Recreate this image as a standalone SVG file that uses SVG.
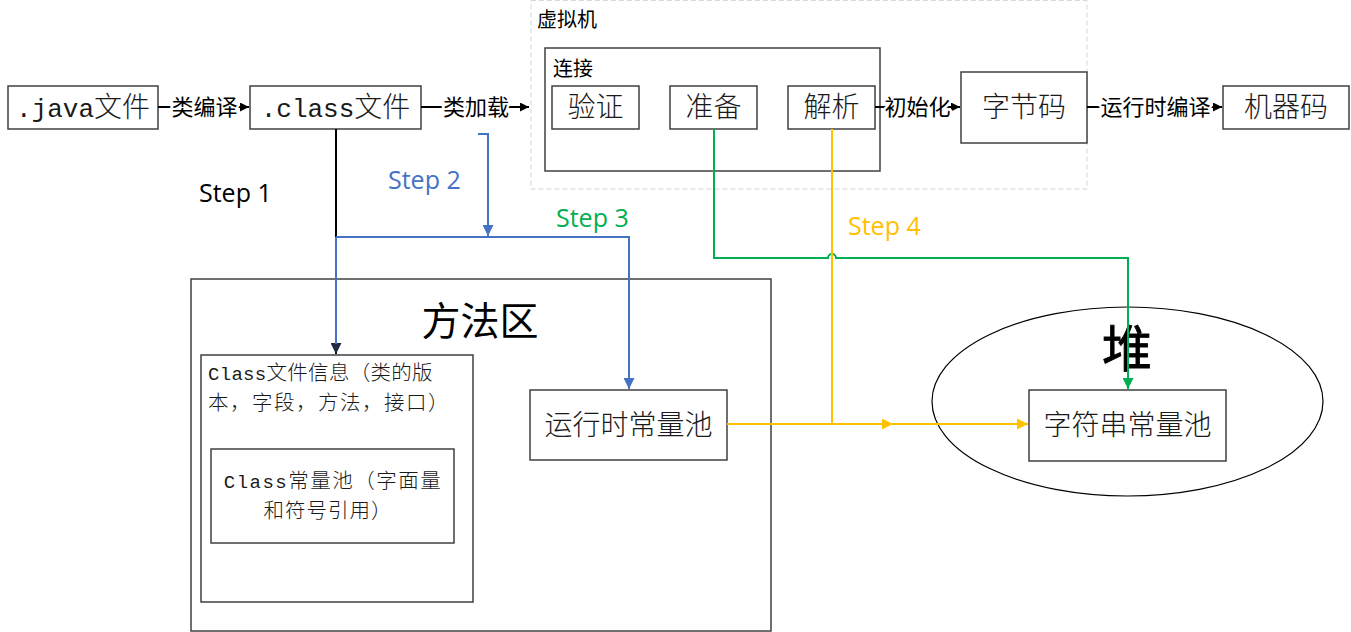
<svg xmlns="http://www.w3.org/2000/svg" width="1351" height="632" viewBox="0 0 1351 632">
<style>
.box{fill:#fff;stroke:#404040;stroke-width:1.5}
.big{font-family:"Noto Sans CJK SC",sans-serif;font-size:28px;font-weight:300;fill:#1a1a1a;text-anchor:middle}
.mid{font-family:"Noto Sans CJK SC",sans-serif;font-size:20.5px;font-weight:300;fill:#1a1a1a}
.mono{font-family:"Liberation Mono","Noto Sans CJK SC",monospace}
.hdr{font-family:"Noto Sans CJK SC",sans-serif;font-size:20px;fill:#000}
.lbl{font-family:"Noto Sans CJK SC",sans-serif;font-size:22px;fill:#000;text-anchor:middle;stroke:#fff;stroke-width:5;paint-order:stroke;stroke-linejoin:round}
.step{font-family:"Open Sans",sans-serif;font-size:25px}
.ln{fill:none;stroke-width:2}
</style>
<defs>
<marker id="ak" viewBox="0 0 10 10" refX="10" refY="5" markerWidth="9" markerHeight="9" markerUnits="userSpaceOnUse" orient="auto"><path d="M0,0 L10,5 L0,10 z" fill="#000"/></marker>
<marker id="akd" viewBox="0 0 10 10" refX="10" refY="5" markerWidth="11" markerHeight="11" markerUnits="userSpaceOnUse" orient="auto"><path d="M0,0 L10,5 L0,10 z" fill="#1f2a44"/></marker>
<marker id="ab" viewBox="0 0 10 10" refX="10" refY="5" markerWidth="11" markerHeight="11" markerUnits="userSpaceOnUse" orient="auto"><path d="M0,0 L10,5 L0,10 z" fill="#4472C4"/></marker>
<marker id="ag" viewBox="0 0 10 10" refX="10" refY="5" markerWidth="11" markerHeight="11" markerUnits="userSpaceOnUse" orient="auto"><path d="M0,0 L10,5 L0,10 z" fill="#00B050"/></marker>
<marker id="ay" viewBox="0 0 10 10" refX="10" refY="5" markerWidth="11" markerHeight="11" markerUnits="userSpaceOnUse" orient="auto"><path d="M0,0 L10,5 L0,10 z" fill="#FFC000"/></marker>
</defs>
<rect width="1351" height="632" fill="#fff"/>

<g id="jvm">
<rect x="531" y="0.5" width="556" height="188.5" fill="none" stroke="#d6d6d6" stroke-width="1" stroke-dasharray="5,3"/>
<text class="hdr" x="537" y="27">虚拟机</text>
</g>
<g id="link">
<rect class="box" x="545" y="48" width="335" height="123"/>
<text class="hdr" x="553" y="76">连接</text>
</g>
<g id="java"><rect class="box" x="8" y="86" width="150" height="43"/><text class="big" x="83" y="117"><tspan class="mono" font-size="26">.java</tspan>文件</text></g>
<g id="class"><rect class="box" x="250" y="86" width="171" height="43"/><text class="big" x="335.5" y="117"><tspan class="mono" font-size="26">.class</tspan>文件</text></g>
<g id="verify"><rect class="box" x="552" y="86" width="87" height="43"/><text class="big" x="595.5" y="117">验证</text></g>
<g id="prepare"><rect class="box" x="670" y="86" width="87" height="43"/><text class="big" x="713.5" y="117">准备</text></g>
<g id="resolve"><rect class="box" x="788" y="86" width="87" height="43"/><text class="big" x="831.5" y="117">解析</text></g>
<g id="bytecode"><rect class="box" x="961" y="72" width="126" height="71"/><text class="big" x="1024" y="117" font-size="29">字节码</text></g>
<g id="machine"><rect class="box" x="1223" y="86" width="126" height="43"/><text class="big" x="1286" y="117" font-size="29">机器码</text></g>

<g id="method-area">
<rect class="box" x="191" y="279" width="580" height="352"/>
<text x="480" y="335" font-family="Noto Sans CJK SC, sans-serif" font-size="39" text-anchor="middle" fill="#000">方法区</text>
</g>
<g id="class-info">
<rect class="box" x="201" y="355" width="272" height="247"/>
<text class="mid" x="208" y="380" letter-spacing="0.3"><tspan class="mono" font-size="19">Class</tspan>文件信息（类的版</text>
<text class="mid" x="208" y="410" letter-spacing="1.5">本，字段，方法，接口）</text>
</g>
<g id="class-pool">
<rect class="box" x="211" y="449" width="243" height="94"/>
<text class="mid" x="333" y="488" text-anchor="middle" letter-spacing="1.5"><tspan class="mono" font-size="19">Class</tspan>常量池（字面量</text>
<text class="mid" x="328" y="518" text-anchor="middle" letter-spacing="1">和符号引用）</text>
</g>
<g id="runtime-pool"><rect class="box" x="530" y="390" width="197" height="70"/><text class="big" x="628.5" y="435" font-size="29">运行时常量池</text></g>

<g id="heap">
<ellipse cx="1127.5" cy="401.5" rx="195.5" ry="94.5" fill="none" stroke="#000" stroke-width="1.2"/>
<text x="1127" y="367" font-family="Noto Sans CJK SC, sans-serif" font-size="50" text-anchor="middle" fill="#000" stroke="#000" stroke-width="0.8">堆</text>
</g>
<g id="string-pool"><rect class="box" x="1029" y="390" width="197" height="71"/><text class="big" x="1127.5" y="435" font-size="29">字符串常量池</text></g>

<g id="connectors">
<path class="ln" d="M158,107 H249" stroke="#000" stroke-width="1.5" marker-end="url(#ak)"/>
<path class="ln" d="M421,107 H529" stroke="#000" stroke-width="1.5" marker-end="url(#ak)"/>
<path class="ln" d="M875,107 H960" stroke="#000" stroke-width="1.5" marker-end="url(#ak)"/>
<path class="ln" d="M1087,107 H1222" stroke="#000" stroke-width="1.5" marker-end="url(#ak)"/>
<text class="lbl" x="204.5" y="115">类编译</text>
<text class="lbl" x="476" y="115">类加载</text>
<text class="lbl" x="917.5" y="115">初始化</text>
<text class="lbl" x="1155.5" y="115">运行时编译</text>

<path class="ln" d="M336,129 V354" stroke="#000" stroke-width="1.5" marker-end="url(#akd)"/>
<path class="ln" d="M336,237 V344" stroke="#4472C4"/>
<path class="ln" d="M478,134 H488 V236" stroke="#4472C4" marker-end="url(#ab)"/>
<path class="ln" d="M336,237 H629 V389" stroke="#4472C4" marker-end="url(#ab)"/>

<path class="ln" d="M714,129 V258 H828 A4,4 0 0 1 836,258 H1128 V389" stroke="#00B050" marker-end="url(#ag)"/>

<path class="ln" d="M832,129 V424" stroke="#FFC000"/>
<path class="ln" d="M727,424 H893" stroke="#FFC000" marker-end="url(#ay)"/>
<path class="ln" d="M890,424 H1028" stroke="#FFC000" marker-end="url(#ay)"/>

<text class="step" x="199" y="202" fill="#000">Step 1</text>
<text class="step" x="388" y="189" fill="#4472C4">Step 2</text>
<text class="step" x="556" y="227" fill="#00B050">Step 3</text>
<text class="step" x="848" y="235" fill="#FFC000">Step 4</text>
</g>
</svg>
